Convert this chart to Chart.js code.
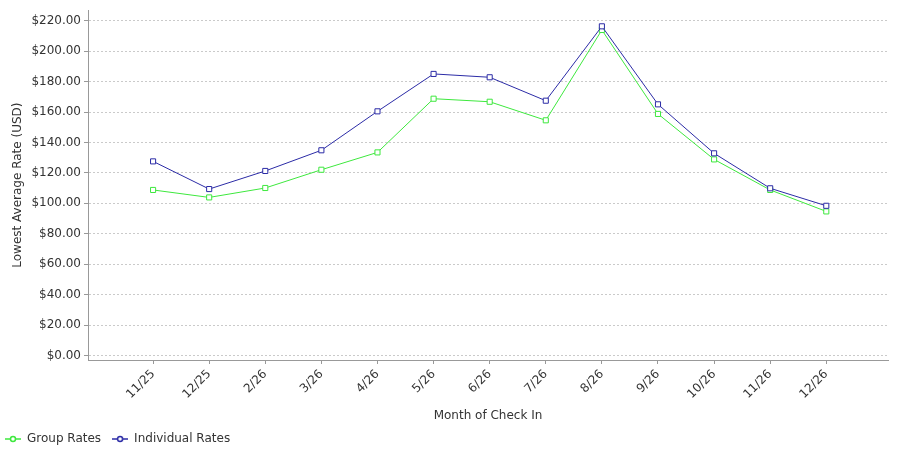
<!DOCTYPE html>
<html>
<head>
<meta charset="utf-8">
<script src="https://cdn.jsdelivr.net/npm/chart.js@4/dist/chart.umd.min.js"></script>
<style>
  html, body { margin: 0; padding: 0; background: #fff; }
  #wrap { width: 900px; height: 450px; position: relative; }
</style>
</head>
<body>
<div id="wrap"><canvas id="rates"></canvas></div>
<script>
const categories = [ '11/25', '12/25', '2/26', '3/26', '4/26', '5/26', '6/26', '7/26', '8/26', '9/26', '10/26', '11/26', '12/26' ];
const groupRates = [ 108.8, 103.9, 110.1, 122.1, 133.5, 168.8, 166.8, 154.6, 214.0, 158.8, 128.9, 108.8, 94.7 ];
const individualRates = [ 127.6, 109.4, 121.3, 134.9, 160.5, 185.1, 182.9, 167.5, 216.4, 165.1, 132.9, 109.9, 98.4 ];
const yTicks = [ 0, 20, 40, 60, 80, 100, 120, 140, 160, 180, 200, 220 ];

const GREEN = '#3ee83e';
const BLUE = '#2b2ba6';
const TEXT = '#333';
const FONT = { family: 'DejaVu Sans', size: 12 };

// little "line with a circle" swatch for the legend
function legendSwatch ( color ) {
    const c = document.createElement( 'canvas' );
    c.width = 16; c.height = 8;
    const g = c.getContext( '2d' );
    g.strokeStyle = color; g.lineWidth = 1.5;
    g.beginPath(); g.moveTo( 0, 4 ); g.lineTo( 16, 4 ); g.stroke();
    g.fillStyle = '#fff';
    g.beginPath(); g.arc( 8, 4, 2.5, 0, Math.PI * 2 ); g.fill(); g.stroke();
    return c;
}

// nudge the legend: a bit further left and down than chart.js puts it
const legendNudge = {
    id: 'legendNudge',
    afterLayout ( ch ) {
        if ( !ch.legend ) return;
        ch.legend.left -= 6;
        ch.legend.top += 5;
    }
};

const toPoints = arr => arr.map( ( v, i ) => ( { x: i, y: v } ) );

function makeSet ( label, values, color, order ) {
    return {
        label,
        data: toPoints( values ),
        borderColor: color,
        borderWidth: 1,
        pointStyle: 'rect',
        pointRadius: 3.6,
        pointBorderWidth: 1,
        pointBackgroundColor: '#fff',
        pointBorderColor: color,
        tension: 0,
        order,
        swatch: legendSwatch( color )
    };
}

const chart = new Chart( document.getElementById( 'rates' ), {
    type: 'line',
    plugins: [ legendNudge ],
    data: {
        datasets: [
            makeSet( 'Group Rates', groupRates, GREEN, 1 ),
            makeSet( 'Individual Rates', individualRates, BLUE, 0 )
        ]
    },
    options: {
        responsive: true,
        maintainAspectRatio: false,
        animation: false,
        layout: { padding: { top: 10, right: 12, left: 0, bottom: 0 } },
        scales: {
            x: {
                type: 'linear',
                min: -1.16,
                max: 13.1,
                afterBuildTicks: s => { s.ticks = categories.map( ( c, i ) => ( { value: i } ) ); },
                afterFit: s => { s.height = 450 - 10 - 350 - ( s.chart.legend ? s.chart.legend.height : 0 ); },
                ticks: {
                    color: TEXT, font: FONT,
                    minRotation: 45, maxRotation: 45,
                    padding: 3,
                    callback: v => categories[ v ] ?? ''
                },
                grid: { drawOnChartArea: false, drawTicks: true, tickLength: 4, color: '#999' },
                border: { color: '#999', width: 1 },
                title: { display: true, text: 'Month of Check In', color: TEXT, font: FONT, padding: { top: 4, bottom: -6 } }
            },
            y: {
                min: -3,
                max: 227,
                afterBuildTicks: s => { s.ticks = yTicks.map( v => ( { value: v } ) ); },
                afterFit: s => { s.width = 88; },
                ticks: {
                    color: TEXT, font: FONT, padding: 3,
                    callback: v => '$' + Number( v ).toFixed( 2 )
                },
                grid: { color: '#cacaca', lineWidth: 1, tickLength: 4, tickColor: '#999', tickBorderDash: [] },
                border: { color: '#999', width: 1, dash: [ 2, 2 ] },
                title: { display: true, text: 'Lowest Average Rate (USD)', color: TEXT, font: FONT, padding: { top: 11, bottom: 4 } }
            }
        },
        plugins: {
            tooltip: { enabled: false },
            legend: {
                position: 'bottom',
                align: 'start',
                labels: {
                    color: TEXT,
                    font: FONT,
                    usePointStyle: true,
                    pointStyleWidth: 16,
                    padding: 11,
                    generateLabels: ch => ch.data.datasets.map( ( ds, i ) => ( {
                        text: ds.label,
                        pointStyle: ds.swatch,
                        fontColor: TEXT,
                        strokeStyle: ds.borderColor,
                        fillStyle: '#fff',
                        lineWidth: 0,
                        hidden: false,
                        datasetIndex: i
                    } ) )
                }
            }
        }
    }
} );
</script>
</body>
</html>
